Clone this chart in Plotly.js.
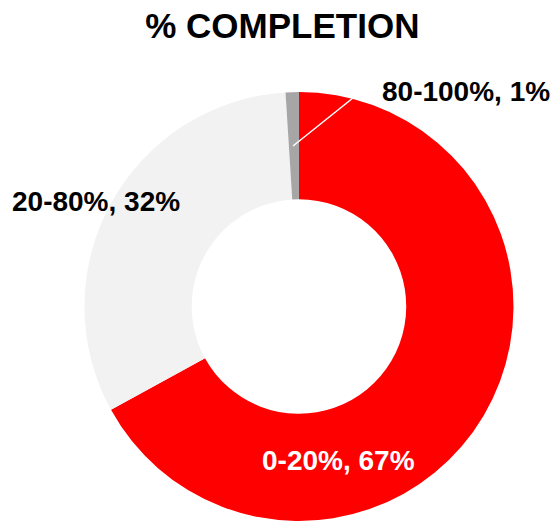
<html lang="en">
  <head>
    <meta charset="UTF-8" />
    <title>% Completion</title>
    <script src="https://cdn.plot.ly/plotly-3.0.1.min.js"></script>
    <style>
      html, body { margin: 0; padding: 0; background: #fff; }
    </style>
  </head>
  <body>
    <div id="chart" style="width: 558px; height: 522px;"></div>
    <script>
      // data
      const labels = ['0-20%', '20-80%', '80-100%'];
      const values = [67, 32, 1];
      const colors = ['#ff0000', '#f2f2f2', '#a6a6a6'];

      const labelText = labels.map((l, i) => l + ', ' + values[i] + '%');

      const trace = {
          type: 'pie',
          labels: labels,
          values: values,
          hole: 0.5,
          sort: false,
          direction: 'clockwise',
          rotation: 0,
          marker: { colors: colors, line: { width: 0 } },
          textinfo: 'none',
          hoverinfo: 'label+percent',
          domain: { x: [0.1505, 0.9211], y: [0.0019, 0.8238] },
          showlegend: false
      };

      const font = { family: 'Liberation Sans, Arial, sans-serif', size: 28, color: '#000' };

      const layout = {
          width: 558,
          height: 522,
          margin: { l: 0, r: 0, t: 0, b: 0 },
          paper_bgcolor: '#fff',
          title: {
              text: '<b>% COMPLETION</b>',
              font: { family: 'Liberation Sans, Arial, sans-serif', size: 35, color: '#000' },
              x: 0.506, xanchor: 'center',
              y: 0.95, yanchor: 'middle'
          },
          annotations: [
              { text: '<b>' + labelText[0] + '</b>', x: 0.6075, y: 0.1169, xref: 'paper', yref: 'paper',
                xanchor: 'center', yanchor: 'middle',
                showarrow: false, font: Object.assign({}, font, { color: '#fff' }) },
              { text: '<b>' + labelText[1] + '</b>', x: 0.172, y: 0.6149, xref: 'paper', yref: 'paper',
                xanchor: 'center', yanchor: 'middle',
                showarrow: false, font: font },
              { text: '<b>' + labelText[2] + '</b>', x: 0.835, y: 0.8247, xref: 'paper', yref: 'paper',
                xanchor: 'center', yanchor: 'middle',
                showarrow: false, font: font }
          ],
          shapes: [
              // leader line for the small slice
              { type: 'path', xref: 'paper', yref: 'paper',
                path: 'M 0.5251 0.7203 L 0.6505 0.8276 L 0.6756 0.8276',
                line: { color: '#ffffff', width: 1.5 } }
          ]
      };

      Plotly.newPlot('chart', [trace], layout, { displayModeBar: false });
    </script>
  </body>
</html>
